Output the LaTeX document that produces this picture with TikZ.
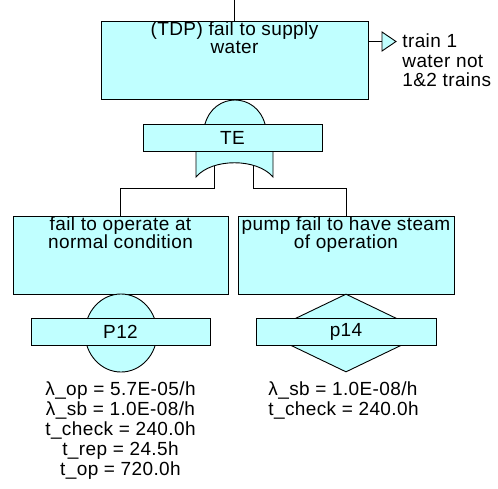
\documentclass[tikz,border=0pt]{standalone}
\usepackage{fontspec}
\setmainfont[LetterSpace=2]{Liberation Sans}
\usepackage{xcolor}
\usepackage{tikz}
\usetikzlibrary{positioning, shapes.geometric}

\definecolor{ftcyan}{RGB}{192,255,255}

\begin{document}
\begin{tikzpicture}[
  x=1pt, y=-1pt,
  font=\fontsize{19}{18}\selectfont,
  inner sep=0pt,
  line width=0.9pt,
  evbox/.style={
    draw,
    fill=ftcyan,
    minimum height=78pt
  },
  idbox/.style={
    draw,
    fill=ftcyan,
    minimum width=179pt,
    minimum height=27pt
  },
  gate/.style={draw, fill=ftcyan},
  evtext/.style={anchor=base, align=center},
  paramtext/.style={font=\fontsize{19}{20}\selectfont, anchor=base}
]

\useasboundingbox (0,0) rectangle (498,488);

% ================= Top event =================
\coordinate (tdp_in) at (234.5,0);

\node[evbox, minimum width=267pt] (tdp) at (234.5,60.5) {};
% base anchor sits on the last line
\node[evtext] (tdp_txt) at ([yshift=-32.5pt]tdp.north)
  {(TDP) fail to supply\\water};

\draw (tdp_in) -- (tdp.north);

% transfer out
\coordinate (trf) at (382,41.5);
\draw (tdp.east |- trf) -- (trf);
\draw[gate] (trf) -- ++(0,-9.5) -- ++(14,9.5) -- ++(-14,9.5) -- cycle;

\node[anchor=base west, align=left, font=\fontsize{19}{19.7}\selectfont]
  (trf_txt) at (402,86.7) {train 1\\water not\\1\&2 trains};

% ================= Input events =================
\node[evbox, minimum width=215pt] (fail_op) at (120.5,255) {};
\node[evtext] (fail_op_txt) at ([yshift=-32.7pt]fail_op.north)
  {fail to operate at\\normal condition};

\node[evbox, minimum width=216pt] (no_steam) at (346,255) {};
\node[evtext] (no_steam_txt) at ([yshift=-32.7pt]no_steam.north)
  {pump fail to have steam\\of operation};

% ================= Gate TE =================
\coordinate (te_out_l) at (214.5,160);
\coordinate (te_out_r) at (253,160);

\draw (te_out_l) -- ++(0,28) -| (fail_op.north);
\draw (te_out_r) -- ++(0,28) -| (no_steam.north);

\draw[gate] (196,177) -- (196,130) -- (205,124)
  .. controls (214,92) and (256,92) .. (265,124)
  -- (273,130) -- (273,177)
  .. controls (257,158) and (212,158) .. (196,177) -- cycle;

\node[idbox] (te) at (232.5,137.5) {TE};

% ================= Basic event P12 =================
\node[gate, ellipse, minimum width=72pt, minimum height=78pt]
  (p12_circ) at (121,333) {};
\node[idbox] (p12) at (120.5,332) {P12};

\node[paramtext, align=center] (p12_par) at (120.5,475)
  {λ\_op = 5.7E-05/h\\λ\_sb = 1.0E-08/h\\t\_check = 240.0h\\t\_rep = 24.5h\\t\_op = 720.0h};

% ================= Undeveloped event p14 =================
\node[gate, diamond, minimum width=162pt, minimum height=78pt]
  (p14_diam) at (346,333) {};
\node[idbox, minimum width=180pt] (p14) at (346,332) {p14};

\node[paramtext, anchor=base west, align=left] (p14_par) at (268,415)
  {λ\_sb = 1.0E-08/h\\t\_check = 240.0h};

\end{tikzpicture}
\end{document}
